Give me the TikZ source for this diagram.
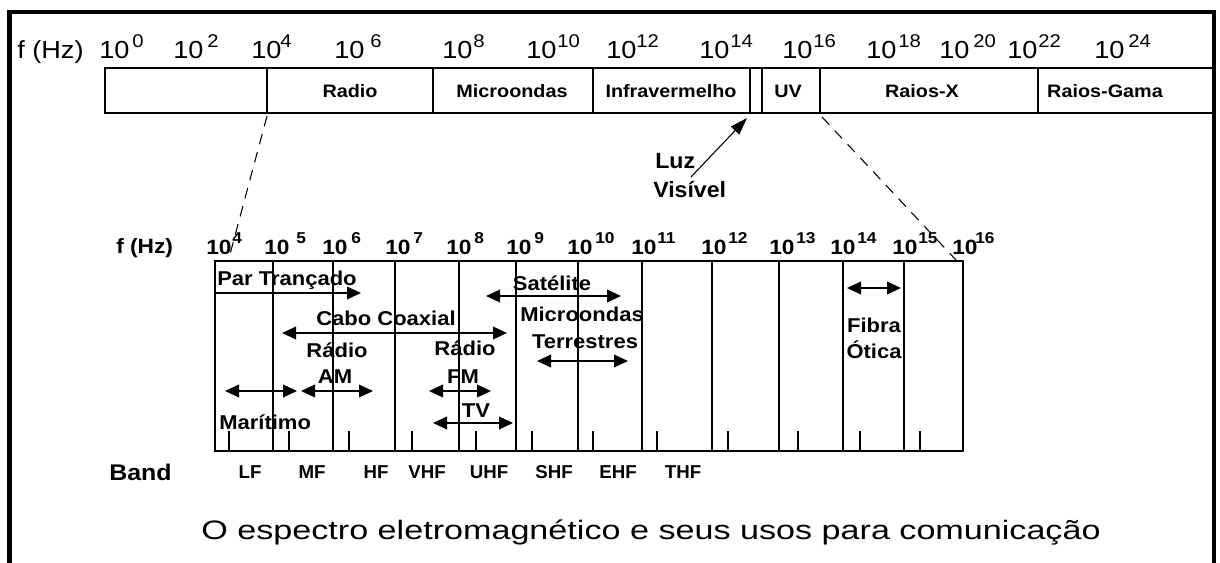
\documentclass[tikz,border=0pt]{standalone}
\usepackage{fontspec}
\setmainfont{Liberation Sans}
\newfontfamily\topf{Liberation Sans}[FakeStretch=1.1]
\newfontfamily\bbf{Liberation Sans}[FakeStretch=1.1]
\newfontfamily\capf{Liberation Sans}[FakeStretch=1.28]
\newfontfamily\luzf{Liberation Sans}[FakeStretch=1.05]
\newfontfamily\bandf{Liberation Sans}
\usetikzlibrary{arrows.meta}
\tikzset{
  topnum/.style={inner sep=0pt, anchor=base west, font=\topf\fontsize{18.5}{20}\selectfont},
  topsup/.style={inner sep=0pt, anchor=base west, font=\topf\fontsize{13.8}{15}\selectfont},
  barlbl/.style={inner sep=0pt, anchor=base, font=\bbf\bfseries\fontsize{13.5}{15}\selectfont},
  lowlbl/.style={inner sep=0pt, anchor=base, font=\bbf\bfseries\fontsize{15}{17}\selectfont},
  lownum/.style={inner sep=0pt, anchor=base west, font=\bbf\bfseries\fontsize{15.5}{17}\selectfont},
  lowsup/.style={inner sep=0pt, anchor=base west, font=\bbf\bfseries\fontsize{11.8}{13}\selectfont},
  bandlbl/.style={inner sep=0pt, anchor=base, font=\bandf\bfseries\fontsize{14}{16}\selectfont},
  bandhead/.style={inner sep=0pt, anchor=base west, font=\bbf\bfseries\fontsize{17}{19}\selectfont},
  luzlbl/.style={inner sep=0pt, anchor=base west, font=\luzf\bfseries\fontsize{16.5}{18}\selectfont},
  caplbl/.style={inner sep=0pt, anchor=base, font=\capf\fontsize{20}{22}\selectfont},
  barline/.style={line width=1.5pt},
  boxline/.style={line width=1.5pt},
  tickline/.style={line width=1.1pt},
  zoomline/.style={line width=0.8pt, dash pattern=on 8pt off 6pt},
  onearrow/.style={line width=1pt, -{Triangle[length=10.5pt,width=9.5pt]}},
  twoarrow/.style={line width=1pt, {Triangle[length=10.5pt,width=9.5pt]}-{Triangle[length=10.5pt,width=9.5pt]}},
  luzarrow/.style={line width=0.8pt, -{Triangle[length=13pt,width=8.5pt]}},
}
\begin{document}
\begin{tikzpicture}[x=0.75pt,y=-0.75pt]
\useasboundingbox (0,0) rectangle (1220,563);
\fill[white] (0,0) rectangle (1220,563);
% outer frame
\draw[line width=3.4pt] (9.5,563) -- (9.5,12) -- (1214,12) -- (1214,563);

% ---------- top scale ----------
\node[topnum] (fhz) at (17,59) {f (Hz)};
\foreach \a/\b/\s in {99/132/0,173/207/2,251/280/4,334/370/6,442/473/8,526/557/10,606/636/12,699/730/14,782/813/16,866/898/18,939/973/20,1007/1038/22,1094/1128/24}{
  \node[topnum] (tn\s) at (\a,59) {10};
  \node[topsup] (ts\s) at (\b,48) {\s};
}
\draw[barline] (105,68) rectangle (1214,113);
\foreach \x in {267,433,593,750,762,820,1038}{
  \draw[barline] (\x,68) -- (\x,113);
}
\node[barlbl] (radio) at (350,98) {Radio};
\node[barlbl] (micro) at (512,98) {Microondas};
\node[barlbl] (infra) at (671,98) {Infravermelho};
\node[barlbl] (uv) at (788,98) {UV};
\node[barlbl] (rx) at (922,98) {Raios-X};
\node[barlbl] (rg) at (1105,98) {Raios-Gama};

% Luz visivel
\node[luzlbl] (luz) at (655,169) {Luz};
\node[luzlbl] (vis) at (653,197) {Visível};
\coordinate (luztail) at (691,177);
\coordinate (luztip) at (747,118);
\draw[luzarrow] (luztail) -- (luztip);

% zoom dashed lines
\coordinate (zl1) at (267,116);
\coordinate (zl2) at (229,258);
\coordinate (zr1) at (822,117);
\coordinate (zr2) at (956,260);
\draw[zoomline] (zl1) -- (zl2);
\draw[zoomline] (zr1) -- (zr2);

% ---------- lower scale ----------
\node[lownum] (lfhz) at (116,253) {f (Hz)};
\foreach \a/\b/\s in {206/232/4,264/296/5,322/351/6,385/413/7,446/474/8,506/534/9,567/595/10,631/657/11,701/728/12,769/796/13,830/857/14,892/918/15,952/975/16}{
  \node[lownum] (ln\s) at (\a,254) {10};
  \node[lowsup] (ls\s) at (\b,243) {\s};
}
\draw[boxline] (215,261) rectangle (963,451);
\foreach \x in {273,333,395,459,516,578,642,712,779,843,904}{
  \draw[boxline] (\x,261) -- (\x,451);
}
\foreach \x in {229,289,349,412,476,532,593,657,728,798,860,920}{
  \draw[tickline] (\x,431) -- (\x,451);
}

% labels inside box
\node[lowlbl, anchor=base west] (par) at (217,285) {Par Trançado};
\coordinate (parA) at (215,293);
\coordinate (parB) at (361,293);
\draw[onearrow] (parA) -- (parB);

\node[lowlbl] (sat) at (552,290) {Satélite};
\coordinate (satA) at (486,296);
\coordinate (satB) at (621,296);
\draw[twoarrow] (satA) -- (satB);

\node[lowlbl] (cabo) at (386,325) {Cabo Coaxial};
\coordinate (caboA) at (282,333);
\coordinate (caboB) at (507,333);
\draw[twoarrow] (caboA) -- (caboB);

\node[lowlbl] (mic) at (582,321) {Microondas};
\node[lowlbl] (ter) at (585,348) {Terrestres};
\coordinate (mtA) at (537,361);
\coordinate (mtB) at (628,361);
\draw[twoarrow] (mtA) -- (mtB);

\node[lowlbl] (rad1) at (337,357) {Rádio};
\node[lowlbl] (am) at (335,383) {AM};
\coordinate (marA) at (225,391);
\coordinate (marB) at (297,391);
\draw[twoarrow] (marA) -- (marB);
\coordinate (amA) at (301,391);
\coordinate (amB) at (373,391);
\draw[twoarrow] (amA) -- (amB);

\node[lowlbl] (rad2) at (465,355) {Rádio};
\node[lowlbl] (fm) at (463,383) {FM};
\coordinate (fmA) at (429,391);
\coordinate (fmB) at (491,391);
\draw[twoarrow] (fmA) -- (fmB);

\node[lowlbl] (tv) at (476,417) {TV};
\coordinate (tvA) at (433,423);
\coordinate (tvB) at (513,423);
\draw[twoarrow] (tvA) -- (tvB);

\node[lowlbl, anchor=base west] (mar) at (219,429) {Marítimo};

\node[lowlbl] (fib) at (874,332) {Fibra};
\node[lowlbl] (oti) at (874,358) {Ótica};
\coordinate (fibA) at (847,288);
\coordinate (fibB) at (901,288);
\draw[twoarrow] (fibA) -- (fibB);

% band labels
\node[bandhead] (band) at (109,480) {Band};
\foreach \x/\t in {250/LF,312/MF,376/HF,427/VHF,489/UHF,554/SHF,618/EHF,683/THF}{
  \node[bandlbl] (b\t) at (\x,478) {\t};
}

% caption
\node[caplbl] (cap) at (651,539) {O espectro eletromagnético e seus usos para comunicação};
\end{tikzpicture}
\end{document}
